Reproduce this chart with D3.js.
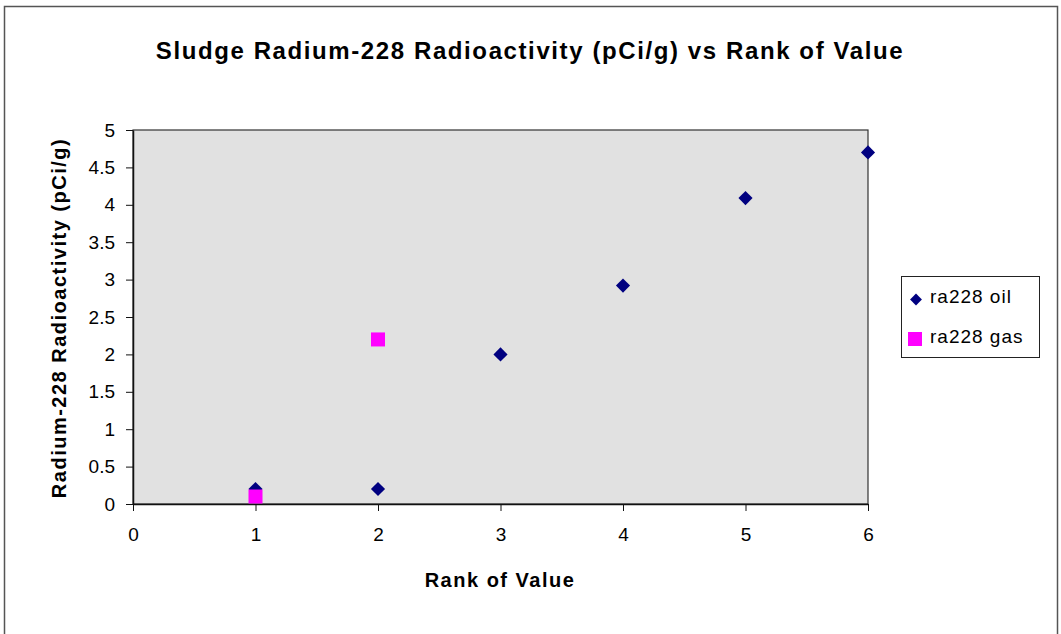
<!DOCTYPE html>
<html>
<head>
<meta charset="utf-8">
<script src="https://cdn.jsdelivr.net/npm/d3@7"></script>
<style>
  body { margin: 0; background: #fff; }
  svg { display: block; font-family: Arial, "Liberation Sans", sans-serif; }
</style>
</head>
<body>
<svg id="chart" width="1061" height="634"></svg>
<script>
// data
var oilRank = [1, 2, 3, 4, 5, 6];
var oilValues = [0.2, 0.2, 2.0, 2.92, 4.09, 4.7];
var gasRank = [1, 2];
var gasValues = [0.1, 2.2];
var xTicks = [0, 1, 2, 3, 4, 5, 6];
var yTicks = [0, 0.5, 1, 1.5, 2, 2.5, 3, 3.5, 4, 4.5, 5];

var svg = d3.select("#chart");

// outer frame
svg.append("rect")
    .attr("x", 4.5).attr("y", 6.5)
    .attr("width", 1053).attr("height", 640)
    .attr("fill", "none")
    .attr("stroke", "#555")
    .attr("stroke-width", 1.5);

var plot = {left: 133, top: 130, right: 868, bottom: 504};

var x = d3.scaleLinear().domain([0, 6]).range([plot.left, plot.right]);
var y = d3.scaleLinear().domain([0, 5]).range([plot.bottom, plot.top]);

// plot area
svg.append("rect")
    .attr("x", plot.left).attr("y", plot.top)
    .attr("width", plot.right - plot.left)
    .attr("height", plot.bottom - plot.top)
    .attr("fill", "#e1e1e1")
    .attr("stroke", "#333")
    .attr("stroke-width", 1.2);

// axes
var xAxis = svg.append("g")
    .attr("transform", "translate(0," + plot.bottom + ")")
    .call(d3.axisBottom(x).tickValues(xTicks).tickSize(7).tickSizeOuter(0).tickPadding(17)
        .tickFormat(function(d) { return String(d); }));
var yAxis = svg.append("g")
    .attr("transform", "translate(" + plot.left + ",0)")
    .call(d3.axisLeft(y).tickValues(yTicks).tickSize(7).tickSizeOuter(0).tickPadding(11)
        .tickFormat(function(d) { return String(d); }));

[xAxis, yAxis].forEach(function(ax) {
    ax.select(".domain").attr("stroke", "#111").attr("stroke-width", 1.5);
    ax.selectAll(".tick line").attr("stroke", "#111");
    ax.selectAll(".tick text")
        .attr("fill", "#000")
        .style("font-size", "19px")
        .style("font-family", "Arial, 'Liberation Sans', sans-serif");
});

// title + axis labels
svg.append("text")
    .attr("x", 530).attr("y", 59)
    .attr("text-anchor", "middle")
    .style("font-size", "24px").style("font-weight", "bold")
    .style("letter-spacing", "1.6px")
    .text("Sludge Radium-228 Radioactivity (pCi/g) vs Rank of Value");

svg.append("text")
    .attr("x", 500).attr("y", 587)
    .attr("text-anchor", "middle")
    .style("font-size", "20px").style("font-weight", "bold")
    .style("letter-spacing", "1.5px")
    .text("Rank of Value");

svg.append("text")
    .attr("transform", "translate(66,318) rotate(-90)")
    .attr("text-anchor", "middle")
    .style("font-size", "20px").style("font-weight", "bold")
    .style("letter-spacing", "1.5px")
    .text("Radium-228 Radioactivity (pCi/g)");

// series
var diamond = d3.symbol().type(d3.symbolSquare).size(100);

svg.append("g").selectAll("path")
    .data(oilRank.map(function(r, i) { return {x: r, y: oilValues[i]}; }))
    .enter().append("path")
    .attr("d", diamond)
    .attr("fill", "#000080")
    .attr("transform", function(d) {
        return "translate(" + x(d.x) + "," + y(d.y) + ") rotate(45)";
    });

svg.append("g").selectAll("rect")
    .data(gasRank.map(function(r, i) { return {x: r, y: gasValues[i]}; }))
    .enter().append("rect")
    .attr("x", function(d) { return x(d.x) - 7; })
    .attr("y", function(d) { return y(d.y) - 7; })
    .attr("width", 14).attr("height", 14)
    .attr("fill", "#ff00ff");

// legend
var legend = svg.append("g").attr("transform", "translate(901,276)");
legend.append("rect")
    .attr("x", 0.5).attr("y", 0.5)
    .attr("width", 138).attr("height", 81)
    .attr("fill", "#fff")
    .attr("stroke", "#222");
legend.append("path")
    .attr("d", d3.symbol().type(d3.symbolSquare).size(70))
    .attr("fill", "#000080")
    .attr("transform", "translate(15,23.5) rotate(45)");
legend.append("rect")
    .attr("x", 7).attr("y", 56)
    .attr("width", 14).attr("height", 14)
    .attr("fill", "#ff00ff");
legend.selectAll("text.lbl")
    .data(["ra228 oil", "ra228 gas"])
    .enter().append("text")
    .attr("class", "lbl")
    .attr("x", 29)
    .attr("y", function(d, i) { return 27 + i * 39.5; })
    .style("font-size", "19px")
    .style("letter-spacing", "1px")
    .text(function(d) { return d; });
</script>
</body>
</html>
